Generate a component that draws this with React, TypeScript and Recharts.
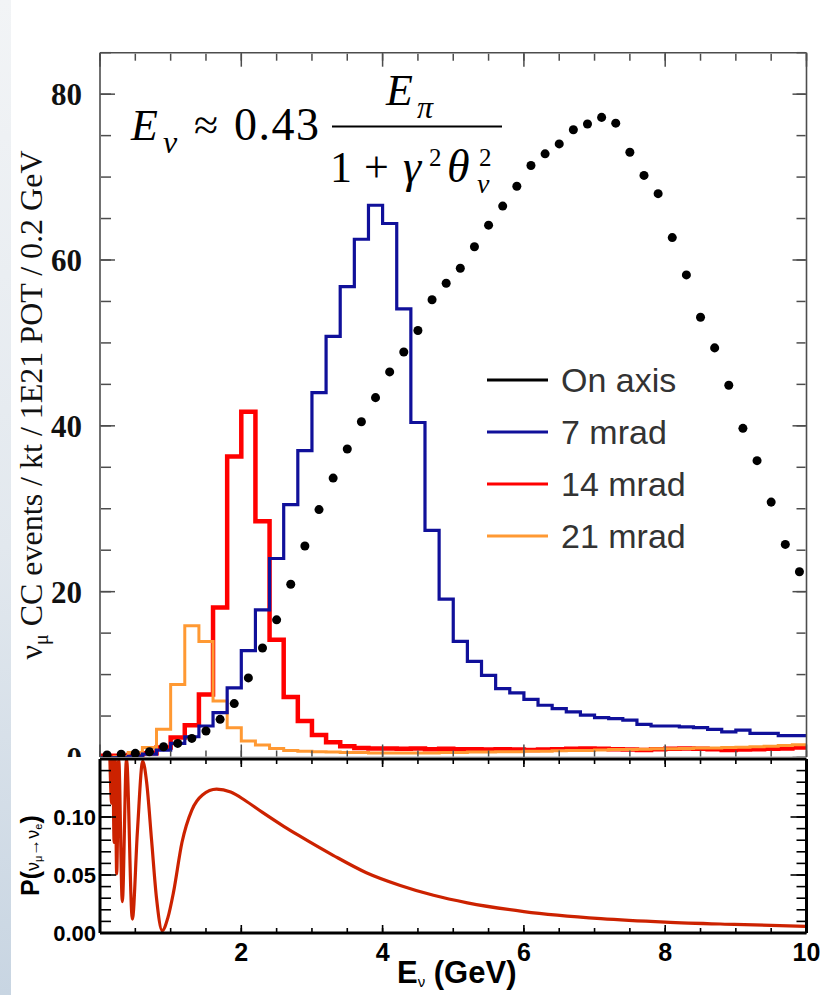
import React from 'react';
import { ComposedChart, LineChart, Line, Scatter, XAxis, YAxis } from 'recharts';

// bin edges of the 0.2 GeV histograms
const binEdges = [
  0, 0.2, 0.4, 0.6, 0.8, 1.0, 1.2, 1.4, 1.6, 1.8, 2.0, 2.2, 2.4, 2.6, 2.8, 3.0, 3.2, 3.4, 3.6, 3.8,
  4.0, 4.2, 4.4, 4.6, 4.8, 5.0, 5.2, 5.4, 5.6, 5.8, 6.0, 6.2, 6.4, 6.6, 6.8, 7.0, 7.2, 7.4, 7.6, 7.8,
  8.0, 8.2, 8.4, 8.6, 8.8, 9.0, 9.2, 9.4, 9.6, 9.8, 10.0,
];
const binCenters = [
  0.1, 0.3, 0.5, 0.7, 0.9, 1.1, 1.3, 1.5, 1.7, 1.9, 2.1, 2.3, 2.5, 2.7, 2.9, 3.1, 3.3, 3.5, 3.7, 3.9,
  4.1, 4.3, 4.5, 4.7, 4.9, 5.1, 5.3, 5.5, 5.7, 5.9, 6.1, 6.3, 6.5, 6.7, 6.9, 7.1, 7.3, 7.5, 7.7, 7.9,
  8.1, 8.3, 8.5, 8.7, 8.9, 9.1, 9.3, 9.5, 9.7, 9.9,
];

const onAxis = [
  0.3, 0.4, 0.5, 0.7, 1.3, 1.7, 2.3, 3.2, 4.6, 6.5,
  9.6, 13.2, 16.6, 20.9, 25.5, 29.9, 33.7, 37.2, 40.5, 43.4,
  46.5, 48.9, 51.5, 55.2, 57.2, 59.0, 61.6, 64.2, 66.5, 68.9,
  71.4, 72.8, 74.0, 75.7, 76.4, 77.2, 76.5, 73.0, 70.2, 68.0,
  62.7, 58.2, 53.1, 49.4, 44.9, 39.7, 35.8, 30.8, 25.7, 22.4,
];
const mrad7 = [
  0, 0, 0.15, 0.4, 0.9, 1.7, 2.5, 3.8, 5.4, 8.4,
  12.9, 17.8, 24.0, 30.5, 37.0, 44.0, 50.8, 56.8, 62.5, 66.6,
  64.4, 54.1, 40.4, 27.4, 19.1, 14.0, 11.6, 9.9, 8.3, 7.8,
  7.0, 6.3, 5.9, 5.5, 5.1, 4.8, 4.7, 4.5, 4.0, 3.8,
  3.8, 3.7, 3.6, 3.4, 3.1, 3.3, 2.9, 2.9, 2.65, 2.65,
];
const mrad14 = [
  0.2, 0.2, 0.3, 0.5, 1.2, 2.4, 3.9, 7.6, 18.1, 36.3,
  41.7, 28.5, 14.2, 7.3, 4.4, 2.7, 1.85, 1.35, 1.15, 1.1,
  1.1, 1.05, 1.1, 1.0, 1.05, 1.0, 1.0, 0.95, 1.0, 0.95,
  0.9, 0.95, 1.0, 1.05, 1.1, 1.05, 1.0, 0.95, 0.9, 1.0,
  1.05, 1.1, 1.05, 1.0, 0.9, 0.95, 1.0, 1.05, 1.1, 1.2,
];
const mrad21 = [
  0, 0.1, 0.6, 1.2, 3.4, 8.8, 15.9, 14.0, 6.8, 3.6,
  2.0, 1.5, 1.1, 0.85, 0.75, 0.7, 0.65, 0.6, 0.6, 0.55,
  0.55, 0.55, 0.55, 0.55, 0.6, 0.6, 0.65, 0.65, 0.7, 0.7,
  0.75, 0.75, 0.8, 0.85, 0.85, 0.9, 0.95, 0.95, 1.0, 1.05,
  1.05, 1.1, 1.15, 1.15, 1.2, 1.25, 1.3, 1.35, 1.45, 1.55,
];

// P(numu -> nue)
const oscE = [
  0.14, 0.165, 0.18, 0.2, 0.215, 0.236, 0.265, 0.316, 0.375, 0.458, 0.53, 0.605, 0.66, 0.73, 0.8,
  0.88, 0.96, 1.04, 1.16, 1.3, 1.45, 1.65, 1.85, 2.06, 2.3, 2.6, 2.83, 3.3, 3.77, 4.25, 4.72, 5.2,
  6.0, 7.09, 8.0, 8.98, 10.0,
];
const oscP = [
  0.15, 0.112, 0.15, 0.078, 0.15, 0.051, 0.15, 0.027, 0.15, 0.012, 0.088, 0.148, 0.13, 0.08, 0.03,
  0.002, 0.013, 0.035, 0.078, 0.106, 0.119, 0.124, 0.1215, 0.114, 0.104, 0.092, 0.0835, 0.067, 0.052,
  0.041, 0.0325, 0.026, 0.0185, 0.0124, 0.0094, 0.0074, 0.0057,
];

const xMajor = [0, 2, 4, 6, 8, 10];
const xMinor = [0, 0.5, 1, 1.5, 2, 2.5, 3, 3.5, 4, 4.5, 5, 5.5, 6, 6.5, 7, 7.5, 8, 8.5, 9, 9.5, 10];
const xLabels = [2, 4, 6, 8, 10];
const topYLabels = [0, 20, 40, 60, 80];
const topYMinor = [0, 5, 10, 15, 20, 25, 30, 35, 40, 45, 50, 55, 60, 65, 70, 75, 80, 85];
const botYLabels = [0, 0.05, 0.1];
const botYMinor = [0, 0.01, 0.02, 0.03, 0.04, 0.05, 0.06, 0.07, 0.08, 0.09, 0.1, 0.11, 0.12, 0.13, 0.14, 0.15];

const BLUE = '#10109a';
const RED = '#ff0000';
const ORANGE = '#ff9933';
const OSC = '#cc2200';

const legendItems = [
  { label: 'On axis', color: '#000' },
  { label: '7 mrad', color: BLUE },
  { label: '14 mrad', color: RED },
  { label: '21 mrad', color: ORANGE },
];

const stepRows = (vals: number[]) =>
  binEdges.map((e, i) => ({ e, v: vals[Math.min(i, vals.length - 1)] }));
const dotRows = binCenters.map((e, i) => ({ e, v: onAxis[i] }));
const oscRows = oscE.map((e, i) => ({ e, p: oscP[i] }));

const serif = "'Liberation Serif', 'Times New Roman', serif";
const sans = "'Liberation Sans', Arial, sans-serif";
const blank = () => '';

// inward tick axes (mirror) used for the frame
const xTickAxis = (id: string, orient: 'top' | 'bottom', ticks: number[], size: number, line: any, axisLine: any) => (
  <XAxis
    key={id}
    xAxisId={id}
    type="number"
    dataKey="e"
    domain={[0, 10]}
    allowDataOverflow
    orientation={orient}
    mirror
    height={1}
    ticks={ticks}
    interval={0}
    tick={{ fontSize: 1 }}
    tickFormatter={blank}
    tickSize={size}
    tickLine={line}
    axisLine={axisLine}
  />
);
const yTickAxis = (id: string, orient: 'left' | 'right', dom: number[], ticks: number[], size: number, line: any, axisLine: any) => (
  <YAxis
    key={id}
    yAxisId={id}
    type="number"
    domain={dom}
    allowDataOverflow
    orientation={orient}
    mirror
    width={1}
    ticks={ticks}
    interval={0}
    tick={{ fontSize: 1 }}
    tickFormatter={blank}
    tickSize={size}
    tickLine={line}
    axisLine={axisLine}
  />
);

const topFrame = { stroke: '#4d4d4d', strokeWidth: 1.6 };
const topTick = { stroke: '#4d4d4d', strokeWidth: 1.5 };
const botFrame = { stroke: '#000', strokeWidth: 3 };
const botTick = { stroke: '#000', strokeWidth: 1.6 };

export default function App() {
  return (
    <div style={{ position: 'absolute', left: 0, top: 0, width: 821, height: 995, background: '#fff', overflow: 'hidden' }}>
      <div style={{ position: 'absolute', left: 0, top: 0 }}>
        <ComposedChart width={821} height={800} margin={{ top: 52.7, right: 14.5, bottom: 42.5, left: 40 }}>
          {xTickAxis('bMaj', 'bottom', xMajor, 13, topTick, topFrame)}
          {xTickAxis('bMin', 'bottom', xMinor, 6, topTick, false)}
          {xTickAxis('tMaj', 'top', xMajor, 14, topTick, topFrame)}
          {xTickAxis('tMin', 'top', xMinor, 7, topTick, false)}
          <YAxis
            yAxisId="lab"
            type="number"
            domain={[0, 85]}
            allowDataOverflow
            width={60}
            ticks={topYLabels}
            interval={0}
            tickLine={false}
            axisLine={false}
            tickSize={0}
            tickMargin={18}
            tick={{ fontFamily: serif, fontSize: 31, fontWeight: 'bold', fill: '#111' }}
          />
          {yTickAxis('lMaj', 'left', [0, 85], topYLabels, 15, topTick, topFrame)}
          {yTickAxis('lMin', 'left', [0, 85], topYMinor, 10, topTick, false)}
          {yTickAxis('rMaj', 'right', [0, 85], topYLabels, 14, topTick, topFrame)}
          {yTickAxis('rMin', 'right', [0, 85], topYMinor, 9, topTick, false)}

          <Line data={stepRows(mrad14)} xAxisId="bMaj" yAxisId="lab" dataKey="v" type="stepAfter"
            stroke={RED} strokeWidth={4.5} dot={false} activeDot={false} isAnimationActive={false} />
          <Line data={stepRows(mrad21)} xAxisId="bMaj" yAxisId="lab" dataKey="v" type="stepAfter"
            stroke={ORANGE} strokeWidth={3} dot={false} activeDot={false} isAnimationActive={false} />
          <Line data={stepRows(mrad7)} xAxisId="bMaj" yAxisId="lab" dataKey="v" type="stepAfter"
            stroke={BLUE} strokeWidth={3.2} dot={false} activeDot={false} isAnimationActive={false} />
          <Scatter data={dotRows} xAxisId="bMaj" yAxisId="lab" dataKey="v" fill="#000" isAnimationActive={false} />
        </ComposedChart>
      </div>

      <div style={{ position: 'absolute', left: 0, top: 757, background: '#fff' }}>
        <LineChart width={821} height={238} data={oscRows} margin={{ top: 2, right: 14.5, bottom: 32, left: 40 }}>
          <XAxis
            xAxisId="lab"
            type="number"
            dataKey="e"
            domain={[0, 10]}
            allowDataOverflow
            height={30}
            ticks={xLabels}
            interval={0}
            tickLine={false}
            axisLine={false}
            tickSize={0}
            tickMargin={10}
            tick={{ fontFamily: sans, fontSize: 25, fontWeight: 'bold', fill: '#000' }}
          />
          {xTickAxis('bMaj', 'bottom', xMajor, 8, botTick, botFrame)}
          {xTickAxis('bMin', 'bottom', xMinor, 4, botTick, false)}
          {xTickAxis('tMaj', 'top', xMajor, 8, botTick, botFrame)}
          {xTickAxis('tMin', 'top', xMinor, 4, botTick, false)}
          <YAxis
            yAxisId="lab"
            type="number"
            domain={[0, 0.15]}
            allowDataOverflow
            width={60}
            ticks={botYLabels}
            interval={0}
            tickLine={false}
            axisLine={false}
            tickSize={0}
            tickMargin={4}
            tickFormatter={(v: number) => v.toFixed(2)}
            tick={{ fontFamily: sans, fontSize: 22, fontWeight: 'bold', fill: '#000' }}
          />
          {yTickAxis('lMaj', 'left', [0, 0.15], botYLabels, 16, botTick, botFrame)}
          {yTickAxis('lMin', 'left', [0, 0.15], botYMinor, 10, botTick, false)}
          {yTickAxis('rMaj', 'right', [0, 0.15], botYLabels, 16, botTick, botFrame)}
          {yTickAxis('rMin', 'right', [0, 0.15], botYMinor, 9, botTick, false)}
          <Line xAxisId="lab" yAxisId="lab" dataKey="p" type="monotone" stroke={OSC} strokeWidth={3.2}
            dot={false} activeDot={false} isAnimationActive={false} />
        </LineChart>
      </div>

      <svg width={821} height={995} style={{ position: 'absolute', left: 0, top: 0, pointerEvents: 'none' }}>
        {/* formula */}
        <g fontFamily={serif} fill="#000">
          <text x={131} y={140} fontSize={44} fontStyle="italic">E</text>
          <text x={163} y={153} fontSize={32} fontStyle="italic">ν</text>
          <text x={194} y={140} fontSize={44}>≈</text>
          <text x={234} y={140} fontSize={46} letterSpacing={1.5}>0.43</text>
          <line x1={332} y1={126.5} x2={502} y2={126.5} stroke="#000" strokeWidth={2} />
          <text x={386} y={105} fontSize={44} fontStyle="italic">E</text>
          <text x={417} y={118} fontSize={32} fontStyle="italic">π</text>
          <text x={330} y={182} fontSize={44}>1</text>
          <text x={364} y={182} fontSize={44}>+</text>
          <text x={403} y={182} fontSize={46} fontStyle="italic">γ</text>
          <text x={429} y={166} fontSize={25}>2</text>
          <text x={447} y={182} fontSize={46} fontStyle="italic">θ</text>
          <text x={479} y={166} fontSize={25}>2</text>
          <text x={477} y={193} fontSize={28} fontStyle="italic">ν</text>
        </g>

        {/* legend */}
        {legendItems.map((it, i) => (
          <g key={it.label}>
            <line x1={487} x2={548} y1={380 + i * 52} y2={380 + i * 52} stroke={it.color} strokeWidth={3} />
            <text x={561} y={392 + i * 52} fontFamily={sans} fontSize={34} fill="#333">{it.label}</text>
          </g>
        ))}

        {/* y title top */}
        <text x={42} y={405} transform="rotate(-90 42 405)" textAnchor="middle" fontFamily={serif} fontSize={32} fill="#111">
          ν<tspan fontSize={20} dy={6}>μ</tspan><tspan dy={-6}> CC events / kt / 1E21 POT / 0.2 GeV</tspan>
        </text>

        {/* y title bottom */}
        <text x={39} y={896} transform="rotate(-90 39 896)" fontFamily={sans} fill="#000">
          <tspan fontSize={25} fontWeight="bold">P(</tspan>
          <tspan fontSize={18}>ν</tspan>
          <tspan fontSize={11} dy={3}>μ</tspan>
          <tspan fontSize={17} dy={-3}>→</tspan>
          <tspan fontSize={18}>ν</tspan>
          <tspan fontSize={11} dy={3}>e</tspan>
          <tspan fontSize={25} fontWeight="bold" dy={-3}>)</tspan>
        </text>

        {/* x title */}
        <text x={397} y={983} fontFamily={sans} fontSize={31} fontWeight="bold" fill="#000">
          E<tspan fontSize={15} fontWeight="normal" dy={4}>ν</tspan><tspan dy={-4}> (GeV)</tspan>
        </text>
      </svg>

      <div style={{ position: 'absolute', left: 0, top: 0, width: 11, height: 995,
        background: 'linear-gradient(180deg, #f2f4f6 0%, #e2e8ee 55%, #c8d5e2 100%)' }} />
    </div>
  );
}
